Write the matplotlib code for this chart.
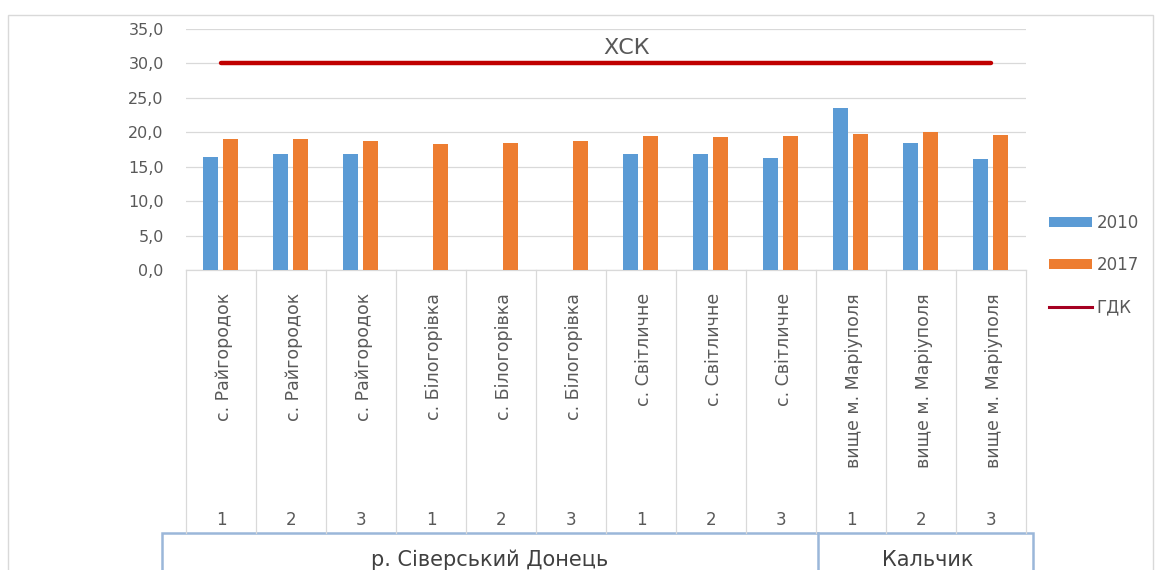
import matplotlib
matplotlib.use("Agg")
import matplotlib.pyplot as plt
import matplotlib.transforms as mtransforms
from matplotlib.patches import Rectangle, Patch
from matplotlib.lines import Line2D
from matplotlib.ticker import FuncFormatter, MultipleLocator
import numpy as np

# --- data -------------------------------------------------------------
sites = ["с. Райгородок", "с. Райгородок", "с. Райгородок",
         "с. Білогорівка", "с. Білогорівка", "с. Білогорівка",
         "с. Світличне", "с. Світличне", "с. Світличне",
         "вище м. Маріуполя", "вище м. Маріуполя", "вище м. Маріуполя"]
points = ["1", "2", "3", "1", "2", "3", "1", "2", "3", "1", "2", "3"]
rivers = ["р. Сіверський Донець", "Кальчик"]
river_sizes = [9, 3]

values_2010 = [16.4, 16.9, 16.8, np.nan, np.nan, np.nan,
               16.9, 16.9, 16.3, 23.5, 18.4, 16.1]
values_2017 = [19.0, 19.0, 18.7, 18.3, 18.4, 18.7,
               19.5, 19.3, 19.5, 19.8, 20.1, 19.6]
gdk_value = 30.0
gdk_label = "ХСК"
series_names = ["2010", "2017", "ГДК"]

# --- style ------------------------------------------------------------
W, H = 1155, 570
BLUE = "#5B9BD5"
ORANGE = "#ED7D31"
RED = "#C00000"
GRID = "#D9D9D9"
TEXT = "#595959"
BOX = "#9BB7D9"

plt.rcParams["font.family"] = ["DejaVu Sans"]

fig = plt.figure(figsize=(W / 100, H / 100), dpi=100)
fig.patch.set_facecolor("white")


def fx(px):
    return px / W


def fy(py):
    return 1 - py / H


ax_left, ax_right = 186, 1026
ax_top, ax_bottom = 29, 270
ax = fig.add_axes([fx(ax_left), fy(ax_bottom),
                   fx(ax_right - ax_left), (ax_bottom - ax_top) / H])

x = np.arange(len(sites))
bw = 0.215
ax.bar(x - 0.145, values_2010, width=bw, color=BLUE, zorder=3)
ax.bar(x + 0.135, values_2017, width=bw, color=ORANGE, zorder=3)
ax.plot(x, np.full(len(x), gdk_value), color=RED, lw=3.2,
        solid_capstyle="round", zorder=4)
ax.text(np.mean(x) + 0.29, gdk_value + 0.8, gdk_label, ha="center",
        va="bottom", fontsize=16, color=TEXT)

ax.set_xlim(-0.5, len(sites) - 0.5)
ax.set_ylim(0, 35)
ax.yaxis.set_major_locator(MultipleLocator(5))
ax.yaxis.set_major_formatter(
    FuncFormatter(lambda v, p: f"{v:.1f}".replace(".", ",")))
ax.tick_params(axis="y", length=0, pad=16, labelsize=11.5,
               labelcolor=TEXT)
ax.set_xticks([])
ax.grid(axis="y", color=GRID, lw=0.9, zorder=0)
for s in ["left", "right", "top"]:
    ax.spines[s].set_visible(False)
ax.spines["bottom"].set_color(GRID)
ax.spines["bottom"].set_linewidth(0.9)

# --- category table under the axis --------------------------------------
tr = mtransforms.blended_transform_factory(ax.transData, fig.transFigure)
table_top = fy(270)
table_bottom = fy(533)
for b in np.arange(-0.5, len(sites), 1.0):
    fig.add_artist(Line2D([b, b], [table_top, table_bottom], transform=tr,
                          color=GRID, lw=0.9))
for i, (s, p) in enumerate(zip(sites, points)):
    ax.text(i + 0.04, fy(293), s, rotation=90, ha="center", va="top",
            fontsize=12.5, color=TEXT, transform=tr, clip_on=False)
    ax.text(i, fy(520), p, ha="center", va="center", fontsize=12,
            color=TEXT, transform=tr, clip_on=False)

# river groups box
box_left, box_right, box_split = 162, 1033, 818
fig.add_artist(Rectangle((fx(box_left), -0.1),
                         fx(box_right - box_left), fy(533) + 0.1,
                         transform=fig.transFigure, fill=False,
                         edgecolor=BOX, lw=1.8))
fig.add_artist(Line2D([fx(box_split)] * 2, [-0.1, fy(533)],
                      transform=fig.transFigure, color=BOX, lw=1.8))
fig.text(fx((box_left + box_split) / 2), fy(560), rivers[0],
         ha="center", va="center", fontsize=15, color="#404040")
fig.text(fx((box_split + box_right) / 2 + 2), fy(560), rivers[1],
         ha="center", va="center", fontsize=15, color="#404040")

# outer chart frame
fig.add_artist(Rectangle((fx(8), -0.1), fx(1153 - 8), fy(15) + 0.1,
                         transform=fig.transFigure, fill=False,
                         edgecolor=GRID, lw=1))

# --- legend -----------------------------------------------------------
handles = [Patch(facecolor=BLUE, edgecolor="none"),
           Patch(facecolor=ORANGE, edgecolor="none"),
           Line2D([], [], color="#A50021", lw=2.2)]
fig.legend(handles, series_names, loc="center left",
           bbox_to_anchor=(fx(1034), fy(265)), frameon=False,
           fontsize=12, handlelength=2.6, handleheight=0.6,
           handletextpad=0.25, labelspacing=1.45, labelcolor=TEXT)

fig.savefig("out.png", dpi=100, facecolor="white")
